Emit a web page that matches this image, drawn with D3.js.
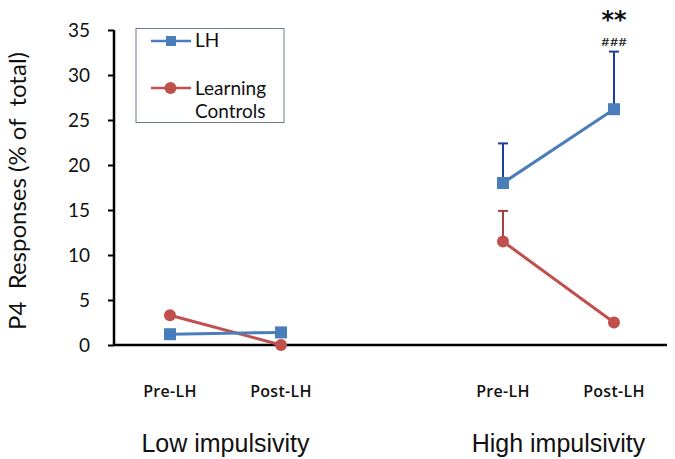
<!DOCTYPE html>
<html><head><meta charset="utf-8">
<script src="https://cdn.jsdelivr.net/npm/d3@7"></script>
<style>body{margin:0;background:#fff}svg{display:block}text{white-space:pre}</style>
</head><body><svg id="c" width="675" height="459" font-family="Lato, 'Open Sans', sans-serif"></svg>
<script>
const conditions = ["Pre-LH","Post-LH","Pre-LH","Post-LH"];
const positions = [0,1,3,4];
const groups = ["Low impulsivity","High impulsivity"];
const groupCenters = [0.5,3.5];
const lhValues = [1.2,1.4,18.0,26.2];
const lhErrTop = [null,null,22.4,32.6];
const ctrlValues = [3.3,0.0,11.5,2.5];
const ctrlErrTop = [null,null,14.9,null];
const yTicks = [0,5,10,15,20,25,30,35];

const svg = d3.select("#c");
const x = d3.scaleLinear().domain([-0.5,4.5]).range([114.5,669.5]);
const y = d3.scaleLinear().domain([0,35]).range([345,30]);
const blue = "#4a7ebb", blueDark = "#1f3c9e", red = "#c0504d", redDark = "#a8403e";

// y axis
const ya = svg.append("g").attr("transform","translate(114,0)")
  .call(d3.axisLeft(y).tickValues(yTicks).tickSize(6).tickPadding(18));
ya.attr("font-family",null).attr("font-size",null);
ya.select(".domain").attr("stroke","#000").attr("stroke-width",2.5).attr("d","M0,30V345");
ya.selectAll(".tick line").attr("stroke","#000").attr("stroke-width",2);
ya.selectAll(".tick text").style("font-family","Lato").style("font-size","19px").attr("fill","#111");
// x axis line
svg.append("line").attr("x1",114).attr("x2",667).attr("y1",y(0)).attr("y2",y(0))
  .attr("stroke","#000").attr("stroke-width",2.5);

// y title
svg.append("text").attr("transform","translate(26,191) rotate(-90)").attr("text-anchor","middle")
  .style("font-family","Lato").style("font-size","24px").attr("fill","#111").text("P4  Responses (% of  total)");

// x labels
svg.selectAll("text.cond").data(conditions).enter().append("text").attr("class","cond")
  .attr("x",(d,i)=>x(positions[i])).attr("y",397).attr("text-anchor","middle")
  .style("font-family","'Open Sans'").style("font-size","16px").style("font-weight","600").style("letter-spacing","0.3px").attr("fill","#111").text(d=>d);
svg.selectAll("text.grp").data(groups).enter().append("text").attr("class","grp")
  .attr("x",(d,i)=>x(groupCenters[i])).attr("y",452).attr("text-anchor","middle")
  .style("font-family","'Liberation Sans'").style("font-size","25px").attr("fill","#111").text(d=>d);

function series(vals, errTop, color, errColor, shape){
  const idx = [[0,1],[2,3]];
  vals.forEach((v,i)=>{
    if(errTop[i]==null) return;
    svg.append("line").attr("x1",x(positions[i])).attr("x2",x(positions[i]))
      .attr("y1",y(v)).attr("y2",y(errTop[i])).attr("stroke",errColor).attr("stroke-width",2);
    svg.append("line").attr("x1",x(positions[i])-5).attr("x2",x(positions[i])+5)
      .attr("y1",y(errTop[i])).attr("y2",y(errTop[i])).attr("stroke",errColor).attr("stroke-width",2);
  });
  const line = d3.line().x(i=>x(positions[i])).y(i=>y(vals[i]));
  idx.forEach(p=>svg.append("path").attr("d",line(p)).attr("fill","none").attr("stroke",color).attr("stroke-width",3));
  vals.forEach((v,i)=>{
    if(shape==="square") svg.append("rect").attr("x",x(positions[i])-6).attr("y",y(v)-6).attr("width",12).attr("height",12).attr("fill",color);
    else svg.append("circle").attr("cx",x(positions[i])).attr("cy",y(v)).attr("r",6).attr("fill",color);
  });
}
series(ctrlValues, ctrlErrTop, red, redDark, "circle");
series(lhValues, lhErrTop, blue, blueDark, "square");

// significance
svg.append("text").attr("x",x(4)).attr("y",28).attr("text-anchor","middle").style("font-family","'DejaVu Sans'").style("font-size","24px").style("font-weight","bold").attr("fill","#111").text("**");
svg.append("text").attr("x",x(4)-13).attr("y",46).style("font-size","11px").attr("textLength",26).attr("lengthAdjust","spacingAndGlyphs").attr("fill","#222").text("###");

// legend
const lg = svg.append("g").style("font-family","Lato").style("font-size","19px");
lg.append("rect").attr("x",136).attr("y",28.5).attr("width",148).attr("height",94).attr("fill","#fff").attr("stroke","#6d7a8a").attr("stroke-width",1);
lg.append("line").attr("x1",151).attr("x2",191).attr("y1",41).attr("y2",41).attr("stroke",blue).attr("stroke-width",2.5);
lg.append("rect").attr("x",166).attr("y",36).attr("width",10).attr("height",10).attr("fill",blue);
lg.append("text").attr("x",195).attr("y",47).attr("fill","#111").text("LH");
lg.append("line").attr("x1",151).attr("x2",191).attr("y1",88).attr("y2",88).attr("stroke",red).attr("stroke-width",2.5);
lg.append("circle").attr("cx",170.5).attr("cy",88).attr("r",6).attr("fill",red);
lg.append("text").attr("x",195).attr("y",95).attr("fill","#111").text("Learning");
lg.append("text").attr("x",195).attr("y",118).attr("fill","#111").text("Controls");
</script></body></html>
